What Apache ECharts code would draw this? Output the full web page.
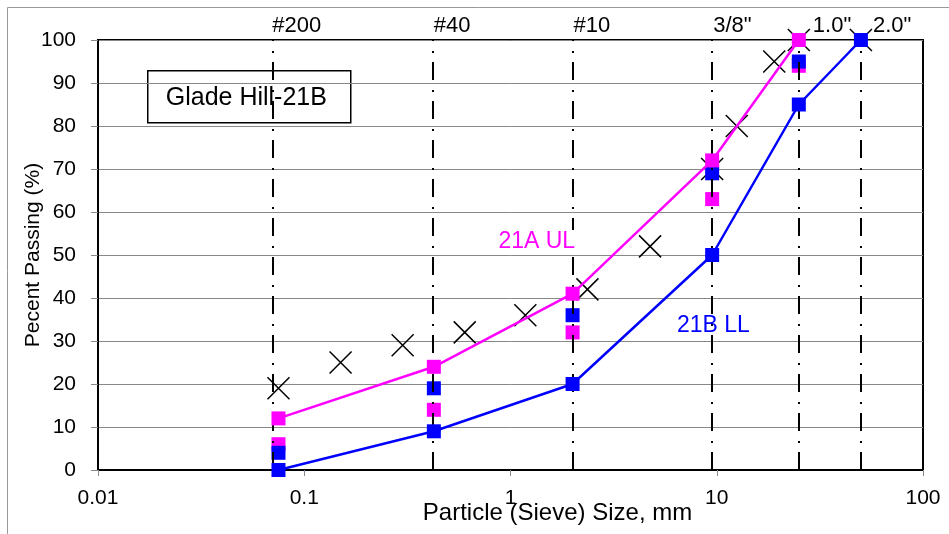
<!DOCTYPE html>
<html>
<head>
<meta charset="utf-8">
<script src="https://cdn.jsdelivr.net/npm/echarts@6/dist/echarts.min.js"></script>
<style>
  html, body { margin: 0; padding: 0; background: #fff; }
  #chart { width: 949px; height: 534px; }
</style>
</head>
<body>
<div id="chart"></div>
<script>
// Sieve openings (mm) and their names shown along the top
const sieveSizes = [0.075, 0.425, 2.0, 9.5, 25.0, 50.0];
const sieveNames = ['#200', '#40', '#10', '3/8"', '1.0"', '2.0"'];

// Sample gradation (x markers)
const sampleSizes = [0.075, 0.15, 0.3, 0.6, 1.18, 2.36, 4.75, 9.5, 12.5, 19.0, 25.0, 50.0];
const samplePassing = [19, 25, 29, 32, 36, 42, 52, 70, 80, 95, 100, 100];

// 21A upper limit band
const ulSizes = [0.075, 0.425, 2.0, 9.5, 25.0];
const ulPassing = [12, 24, 41, 72, 100];
// 21B lower limit band
const llSizes = [0.075, 0.425, 2.0, 9.5, 25.0, 50.0];
const llPassing = [0, 9, 20, 50, 85, 100];

// Additional single points on the sieve lines
const magentaSizes = [0.075, 0.425, 2.0, 9.5, 25.0];
const magentaPassing = [6, 14, 32, 63, 94];
const blueSizes = [0.075, 0.425, 2.0, 9.5, 25.0];
const bluePassing = [4, 19, 36, 69, 95];

const yTicks = [0, 10, 20, 30, 40, 50, 60, 70, 80, 90, 100];

const FONT = '"Liberation Sans", Arial, sans-serif';
const zip = (xs, ys) => xs.map((x, i) => [x, ys[i]]);

// label offsets keep the top names just right of each sieve line
const labelOffsets = [[0, 0], [1, 0], [1, 0], [1, 0], [14, 0], [12, 0]];

const chart = echarts.init(document.getElementById('chart'));
chart.setOption({
  animation: false,
  backgroundColor: '#fff',
  textStyle: { fontFamily: FONT },
  grid: {
    left: 98, right: 26, top: 40, bottom: 64,
    containLabel: false, outerBoundsMode: 'none',
    show: true, borderColor: '#000', borderWidth: 2
  },
  xAxis: {
    type: 'log', logBase: 10, min: 0.01, max: 100,
    name: 'Particle (Sieve) Size, mm',
    nameLocation: 'middle', nameGap: 31, nameMoveOverlap: false,
    nameTextStyle: { fontSize: 24, color: '#000', fontFamily: FONT, padding: [0, 0, 0, 94] },
    axisLine: { lineStyle: { color: '#000', width: 2 } },
    axisTick: { show: true, length: 6, lineStyle: { color: '#888' } },
    minorTick: { show: false },
    splitLine: { show: false },
    axisLabel: {
      fontSize: 21, color: '#000', margin: 18, fontFamily: FONT,
      formatter: v => String(+Number(v).toPrecision(3))
    }
  },
  yAxis: {
    type: 'value', min: yTicks[0], max: yTicks[yTicks.length - 1], interval: 10,
    name: 'Pecent Passing (%)',
    nameLocation: 'middle', nameGap: 54, nameRotate: 90, nameMoveOverlap: false,
    nameTextStyle: { fontSize: 21, color: '#000', fontFamily: FONT },
    axisLine: { show: true, lineStyle: { color: '#000', width: 2 } },
    axisTick: { show: true, length: 7, lineStyle: { color: '#888' } },
    splitLine: { show: true, lineStyle: { color: '#888', width: 1 } },
    axisLabel: { fontSize: 21, color: '#000', margin: 22, fontFamily: FONT }
  },
  graphic: [
    {
      type: 'rect', silent: true, z: -10,
      shape: { x: 7.5, y: 7.5, width: 1000, height: 600 },
      style: { fill: 'none', stroke: '#999', lineWidth: 1 }
    },
    {
      type: 'group', left: 147, top: 70, z: 100,
      children: [
        { type: 'rect', shape: { x: 0, y: 0, width: 203, height: 52 },
          style: { fill: '#fff', stroke: '#000', lineWidth: 1.5 } },
        { type: 'text', x: 18, y: 27,
          style: { text: 'Glade Hill-21B', fontSize: 25, fontFamily: FONT, fill: '#000',
                   verticalAlign: 'middle', align: 'left' } }
      ]
    },
    {
      type: 'text', left: 490, top: 230, z: 100,
      style: { text: ' 21A UL ', fontSize: 23, fontFamily: FONT, fill: '#ff00ff',
               backgroundColor: '#fff', padding: [0, 2] }
    },
    {
      type: 'text', left: 677, top: 314, z: 100,
      style: { text: '21B LL', fontSize: 23, fontFamily: FONT, fill: '#0000ff' }
    }
  ],
  series: [
    {
      // sieve reference lines
      type: 'line', data: [], z: 1, silent: true,
      markLine: {
        silent: true, symbol: 'none', animation: false,
        lineStyle: { color: '#000', width: 2, type: [18, 9, 2, 10] },
        label: {
          show: true, position: 'end', fontSize: 22, color: '#000',
          fontFamily: FONT, align: 'left', distance: 3
        },
        data: sieveSizes.map((s, i) => ({
          xAxis: s,
          label: { formatter: sieveNames[i], offset: labelOffsets[i] }
        }))
      }
    },
    {
      name: 'Sample', type: 'scatter', z: 2,
      symbol: 'path://M0,0L10,10M10,0L0,10', symbolSize: 22,
      itemStyle: { color: 'rgba(0,0,0,0)', borderColor: '#000', borderWidth: 1.5, opacity: 1 },
      data: zip(sampleSizes, samplePassing)
    },
    {
      name: '21A points', type: 'scatter', z: 3,
      symbol: 'rect', symbolSize: 14,
      itemStyle: { color: '#ff00ff', opacity: 1 },
      data: zip(magentaSizes, magentaPassing)
    },
    {
      name: '21B points', type: 'scatter', z: 4,
      symbol: 'rect', symbolSize: 14,
      itemStyle: { color: '#0000ff', opacity: 1 },
      data: zip(blueSizes, bluePassing)
    },
    {
      name: '21B LL', type: 'line', z: 5,
      symbol: 'rect', symbolSize: 14, showAllSymbol: true,
      lineStyle: { color: '#0000ff', width: 2.5 },
      itemStyle: { color: '#0000ff' },
      data: zip(llSizes, llPassing)
    },
    {
      name: '21A UL', type: 'line', z: 6,
      symbol: 'rect', symbolSize: 14, showAllSymbol: true,
      lineStyle: { color: '#ff00ff', width: 2.5 },
      itemStyle: { color: '#ff00ff' },
      data: zip(ulSizes, ulPassing)
    }
  ]
});
</script>
</body>
</html>
